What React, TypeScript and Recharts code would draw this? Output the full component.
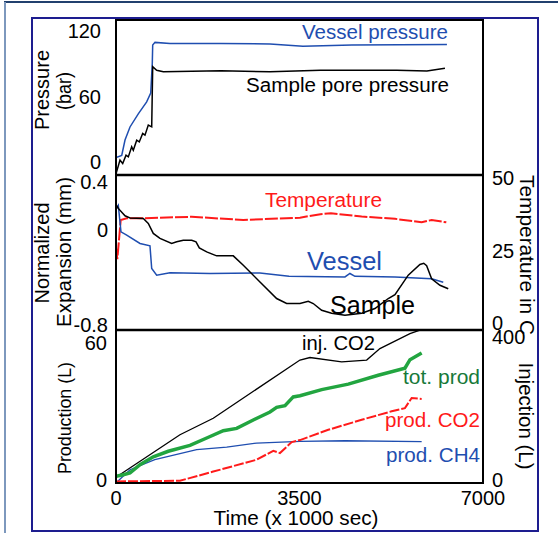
import React from 'react';
import { LineChart, Line, XAxis, YAxis } from 'recharts';

// [time (x1000 s), value]
const vesselPressure = [
  [0, 4], [109, 6], [172, 20], [267, 32], [425, 44], [585, 55], [662, 63], [692, 90],
  [700, 107], [744, 109.5], [1030, 108.5], [2000, 108.5], [2937, 108], [3566, 106],
  [4500, 107], [6312, 107.5],
];
const porePressure = [
  [0, -11], [76, 1.6], [128, -1.5], [191, 6.1], [235, 4.6], [299, 13.8], [330, 10.7],
  [395, 19.9], [444, 18.3], [509, 26], [553, 24.5], [616, 33.7], [681, 32.1], [700, 87.2],
  [776, 84], [902, 82.6], [2000, 83.5], [2937, 82.6], [3900, 84], [5357, 84], [5930, 83.2],
  [6274, 85.7],
];
const sampleExpansion = [
  [0, 0.214], [44, 0.18], [172, 0.118], [267, 0.1], [521, 0.096], [616, 0.054], [711, -0.03],
  [839, -0.072], [1062, -0.114], [1158, -0.1], [1283, -0.087], [1444, -0.087], [1526, -0.1],
  [1589, -0.151], [1730, -0.185], [1920, -0.218], [2237, -0.218], [2428, -0.297],
  [2746, -0.437], [3064, -0.576], [3255, -0.618], [3509, -0.618], [3667, -0.6], [3762, -0.618],
  [3923, -0.675], [4113, -0.7], [4367, -0.717], [4686, -0.7], [4939, -0.66], [5193, -0.576],
  [5321, -0.543], [5574, -0.38], [5797, -0.29], [5870, -0.28], [5925, -0.3], [6020, -0.41],
  [6179, -0.465], [6337, -0.494],
];
const vesselExpansion = [
  [0, 0.17], [44, 0.205], [95, -0.017], [204, -0.045], [458, -0.114], [648, -0.134],
  [681, -0.324], [776, -0.38], [1030, -0.36], [1793, -0.366], [2746, -0.361], [3300, -0.39],
  [4367, -0.395], [4462, -0.366], [4558, -0.39], [5321, -0.395], [6020, -0.41], [6242, -0.44],
];
const temperature = [
  [0, 25.8], [25, 22], [90, 35.5], [204, 36.1], [521, 36.1], [1444, 36.6], [2428, 35.5],
  [3509, 36.3], [3900, 37.5], [4100, 37.8], [4686, 36.7], [5321, 35.9], [5830, 34.7],
  [6020, 35.5], [6300, 34.7],
];
const injCO2 = [
  [0, 7.5], [1220, 126.7], [1855, 173], [3509, 336], [3700, 343], [4304, 331], [4781, 335.7],
  [5034, 368], [5607, 410], [5797, 419.6], [6300, 420],
];
const totProd = [
  [0, 1.6], [139, 2.3], [267, 3.1], [458, 6.7], [711, 10.2], [997, 12.6], [1411, 15.2],
  [1730, 18.4], [2046, 21.6], [2302, 22.6], [2618, 26.3], [2937, 29.8], [3064, 31.8],
  [3223, 32.6], [3381, 36.4], [3509, 36.9], [3923, 39.6], [4430, 42], [5002, 45.9],
  [5511, 49], [5607, 52.7], [5830, 55.6],
];
const prodCO2 = [
  [0, -0.6], [1220, -0.3], [1855, 3.7], [2683, 8.9], [3000, 12.8], [3127, 11.8],
  [3351, 16.6], [3509, 17.5], [4049, 22], [4686, 26.4], [5258, 30.1], [5511, 31.5],
  [5639, 35.9], [5830, 35.5],
];
const prodCH4 = [
  [0, -1.3], [267, 4.5], [740, 8.9], [1539, 13.3], [2111, 14.4], [2683, 16.2], [3509, 16.9],
  [4367, 17.2], [5830, 16.8],
];

const timeTicks = [0, 3500, 7000];
const pressureTicks = [0, 60, 120];
const expansionTicks = [-0.8, 0, 0.4];
const tempTicks = [0, 25, 50];
const prodTicks = [0, 60];
const injTicks = [0, 400];

const FONT = '"Liberation Sans", Arial, Helvetica, sans-serif';
const BLUE = '#1f4eb0';
const RED = '#ff1a1a';
const GREEN = '#22a540';
const GREEN_TEXT = '#17793a';

const pts = (arr: number[][]) => arr.map(([t, v]) => ({ t, v }));
const tick = { fontSize: 20, fill: '#000', fontFamily: FONT };
const abs: React.CSSProperties = { position: 'absolute', left: 0, top: 0 };

function Rot({ x, y, len, angle = -90, children, color = '#000', size = 20 }: any) {
  return (
    <text
      transform={`translate(${x},${y}) rotate(${angle})`}
      textAnchor="middle"
      dominantBaseline="central"
      textLength={len}
      lengthAdjust="spacingAndGlyphs"
      fontSize={size}
      fill={color}
    >
      {children}
    </text>
  );
}

function Note({ x, y, len, children, color = '#000', size = 20 }: any) {
  return (
    <text x={x} y={y} dominantBaseline="central" textLength={len} lengthAdjust="spacingAndGlyphs" fontSize={size} fill={color}>
      {children}
    </text>
  );
}

export default function App() {
  return (
    <div style={{ position: 'absolute', left: 0, top: 0, width: 558, height: 533, background: '#fff', fontFamily: FONT }}>
      {/* pressure */}
      <div style={abs}>
        <LineChart width={558} height={533} margin={{ top: 20, right: 75, bottom: 358, left: 56 }}>
          <XAxis type="number" dataKey="t" domain={[0, 7000]} hide allowDataOverflow />
          <YAxis type="number" domain={[-12, 130]} ticks={pressureTicks} interval={0} width={60}
            axisLine={false} tickLine={false} tickMargin={9} tick={tick} allowDataOverflow />
          <Line data={pts(vesselPressure)} dataKey="v" stroke={BLUE} strokeWidth={1.5} dot={false} isAnimationActive={false} />
          <Line data={pts(porePressure)} dataKey="v" stroke="#000" strokeWidth={1.5} dot={false} isAnimationActive={false} />
        </LineChart>
      </div>
      {/* expansion + temperature */}
      <div style={abs}>
        <LineChart width={558} height={533} margin={{ top: 175, right: 15, bottom: 203, left: 56 }}>
          <XAxis type="number" dataKey="t" domain={[0, 7000]} hide allowDataOverflow />
          <YAxis yAxisId="l" type="number" domain={[-0.84, 0.46]} ticks={expansionTicks} interval={0} width={60}
            axisLine={false} tickLine={false} tickMargin={2} tick={tick} allowDataOverflow />
          <YAxis yAxisId="r" orientation="right" type="number" domain={[-2.4, 51]} ticks={tempTicks} interval={0} width={60}
            axisLine={false} tickLine={false} tickMargin={3} tick={tick} allowDataOverflow />
          <Line yAxisId="r" data={pts(temperature)} dataKey="v" stroke={RED} strokeWidth={2} strokeDasharray="13 2" dot={false} isAnimationActive={false} />
          <Line yAxisId="l" data={pts(vesselExpansion)} dataKey="v" stroke={BLUE} strokeWidth={1.5} dot={false} isAnimationActive={false} />
          <Line yAxisId="l" data={pts(sampleExpansion)} dataKey="v" stroke="#000" strokeWidth={1.5} dot={false} isAnimationActive={false} />
        </LineChart>
      </div>
      {/* production + injection */}
      <div style={abs}>
        <LineChart width={558} height={533} margin={{ top: 330, right: 15, bottom: 20, left: 56 }}>
          <XAxis type="number" dataKey="t" domain={[0, 7000]} ticks={timeTicks} interval={0} height={30}
            axisLine={false} tickLine={false} tickMargin={2} tick={tick} allowDataOverflow />
          <YAxis yAxisId="l" type="number" domain={[-1.3, 65.7]} ticks={prodTicks} interval={0} width={60}
            axisLine={false} tickLine={false} tickMargin={3} tick={tick} allowDataOverflow />
          <YAxis yAxisId="r" orientation="right" type="number" domain={[-8.4, 420]} ticks={injTicks} interval={0} width={60}
            axisLine={false} tickLine={false} tickMargin={3} tick={tick} allowDataOverflow />
          <Line yAxisId="r" data={pts(injCO2)} dataKey="v" stroke="#000" strokeWidth={1.3} dot={false} isAnimationActive={false} />
          <Line yAxisId="l" data={pts(prodCH4)} dataKey="v" stroke={BLUE} strokeWidth={1.3} dot={false} isAnimationActive={false} />
          <Line yAxisId="l" data={pts(prodCO2)} dataKey="v" stroke={RED} strokeWidth={2} strokeDasharray="10 2" dot={false} isAnimationActive={false} />
          <Line yAxisId="l" data={pts(totProd)} dataKey="v" stroke={GREEN} strokeWidth={3.5} dot={false} isAnimationActive={false} />
        </LineChart>
      </div>
      {/* frames and titles */}
      <svg width={558} height={533} style={{ ...abs, pointerEvents: 'none' }} fontFamily={FONT}>
        <line x1={4} y1={2} x2={558} y2={2} stroke="#21406e" strokeWidth={2} />
        <line x1={5} y1={2} x2={5} y2={533} stroke="#7d98bd" strokeWidth={2} />
        <rect x={32} y={18} width={506} height={513} fill="none" stroke="#1d1d8f" strokeWidth={2} />
        <rect x={116} y={20} width={367} height={463} fill="none" stroke="#000" strokeWidth={2} />
        <line x1={116} y1={175} x2={483} y2={175} stroke="#000" strokeWidth={2.5} />
        <line x1={116} y1={330} x2={483} y2={330} stroke="#000" strokeWidth={2.5} />

        <Rot x={42} y={90} len={80}>Pressure</Rot>
        <Rot x={64} y={91} len={38}>(bar)</Rot>
        <Rot x={42} y={253} len={101}>Normalized</Rot>
        <Rot x={64} y={252} len={150}>Expansion (mm)</Rot>
        <Rot x={64} y={418} len={112} size={19}>Production (L)</Rot>
        <Rot x={527} y={255} len={160} angle={90}>Temperature in C</Rot>
        <Rot x={526} y={416} len={107} angle={90}>Injection (L)</Rot>
        <text x={296} y={518} textAnchor="middle" dominantBaseline="central" textLength={165}
          lengthAdjust="spacingAndGlyphs" fontSize={20}>Time (x 1000 sec)</text>

        <Note x={302} y={32} len={146} color={BLUE}>Vessel pressure</Note>
        <Note x={246} y={85} len={203}>Sample pore pressure</Note>
        <Note x={265} y={200} len={117} color={RED}>Temperature</Note>
        <Note x={307} y={261} len={75} color={BLUE} size={25}>Vessel</Note>
        <Note x={330} y={305} len={85} size={25}>Sample</Note>
        <Note x={302} y={343} len={73}>inj. CO2</Note>
        <Note x={403} y={377} len={77} color={GREEN_TEXT}>tot. prod</Note>
        <Note x={385} y={420} len={95} color={RED}>prod. CO2</Note>
        <Note x={386} y={455} len={94} color={BLUE}>prod. CH4</Note>
      </svg>
    </div>
  );
}
